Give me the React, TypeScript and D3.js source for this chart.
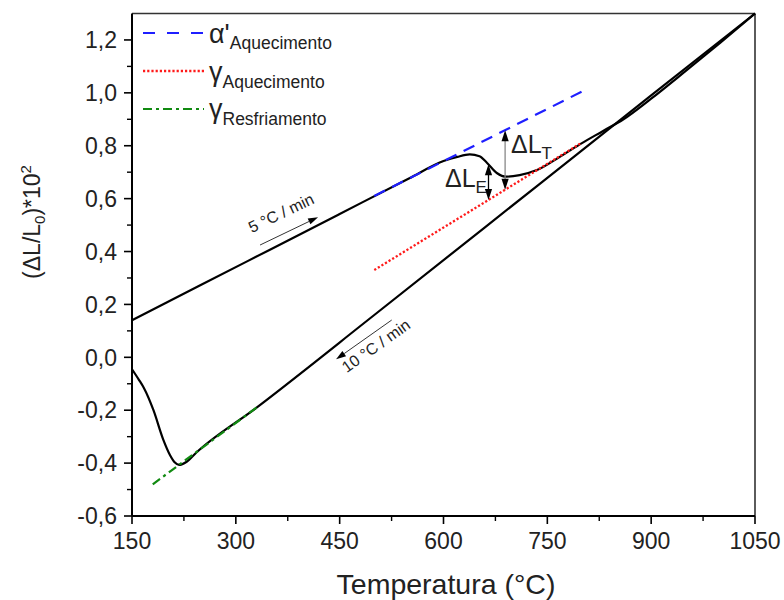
import React from "react";
import * as d3 from "d3";

// Dilatometric curve: heating at 5 °C/min, cooling at 10 °C/min
const heatT = [150, 250, 350, 450, 550, 600, 620, 638, 652, 663, 677, 691, 710, 735, 768, 800, 830, 860, 900, 950, 1000, 1050];
const heatV = [0.14, 0.274, 0.408, 0.542, 0.676, 0.742, 0.758, 0.767, 0.76, 0.735, 0.697, 0.683, 0.689, 0.708, 0.758, 0.81, 0.855, 0.9, 0.978, 1.083, 1.19, 1.3];

const coolT = [150, 160, 167, 181, 195, 205, 212, 218, 229, 243, 330, 500, 740, 900, 1050];
const coolV = [-0.045, -0.085, -0.115, -0.2, -0.31, -0.37, -0.398, -0.407, -0.395, -0.36, -0.19, 0.16, 0.658, 0.99, 1.3];

// Linear fits of the individual phases
const alphaHeatT = [500, 800];
const alphaHeatV = [0.61, 1.005];
const gammaHeatT = [500, 800];
const gammaHeatV = [0.33, 0.812];
const gammaCoolT = [180, 330];
const gammaCoolV = [-0.48, -0.19];

// Axis ticks
const xTicks = [150, 300, 450, 600, 750, 900, 1050];
const xMinor = [225, 375, 525, 675, 825, 975];
const yTicks = [-0.6, -0.4, -0.2, 0.0, 0.2, 0.4, 0.6, 0.8, 1.0, 1.2];
const yMinor = [-0.5, -0.3, -0.1, 0.1, 0.3, 0.5, 0.7, 0.9, 1.1];

// Temperatures where the ΔL arrows are drawn
const dLT_T = 689;
const dLE_T = 665;

const W = 784;
const H = 600;
const M = { left: 132, right: 29, top: 13.5, bottom: 84 };
const FONT = "'Liberation Sans', Arial, sans-serif";

const zip = (t: number[], v: number[]) => t.map((d, i) => [d, v[i]] as [number, number]);
const interp = (t: number[], v: number[]) => d3.scaleLinear().domain(t).range(v);

export default function App() {
  const x = d3.scaleLinear().domain([150, 1050]).range([M.left, W - M.right]);
  const y = d3.scaleLinear().domain([-0.6, 1.3]).range([H - M.bottom, M.top]);

  const curve = d3
    .line<[number, number]>()
    .x((d) => x(d[0]))
    .y((d) => y(d[1]))
    .curve(d3.curveMonotoneX);
  const straight = d3
    .line<[number, number]>()
    .x((d) => x(d[0]))
    .y((d) => y(d[1]));

  const fmt = (v: number) => d3.format(".1f")(v).replace(".", ",").replace("−", "-");

  const alphaAt = interp(alphaHeatT, alphaHeatV);
  const gammaAt = interp(gammaHeatT, gammaHeatV);
  const heatAt = interp(heatT, heatV);

  const x0 = M.left;
  const x1 = W - M.right;
  const y0 = H - M.bottom;
  const y1 = M.top;

  // vertical double-headed arrow between two values at temperature t
  const vArrow = (t: number, vTop: number, vBot: number, shaft: string, key: string) => {
    const px = x(t);
    const yt = y(vTop);
    const yb = y(vBot);
    const hl = 11;
    const hw = 3.6;
    return (
      <g key={key}>
        <line x1={px} x2={px} y1={yt + hl - 1} y2={yb - hl + 1} stroke={shaft} strokeWidth={1.3} />
        <path d={`M${px},${yt} L${px - hw},${yt + hl} L${px + hw},${yt + hl} Z`} fill="#000" />
        <path d={`M${px},${yb} L${px - hw},${yb - hl} L${px + hw},${yb - hl} Z`} fill="#000" />
      </g>
    );
  };

  // slanted arrow with a filled head at the end point
  const sArrow = (from: [number, number], to: [number, number], key: string) => {
    const ax = x(from[0]);
    const ay = y(from[1]);
    const bx = x(to[0]);
    const by = y(to[1]);
    const ang = Math.atan2(by - ay, bx - ax);
    const hl = 10;
    const hw = 3.2;
    const cx = bx - hl * Math.cos(ang);
    const cy = by - hl * Math.sin(ang);
    const nx = -Math.sin(ang) * hw;
    const ny = Math.cos(ang) * hw;
    return (
      <g key={key}>
        <line x1={ax} y1={ay} x2={cx} y2={cy} stroke="#333" strokeWidth={1} />
        <path d={`M${bx},${by} L${cx + nx},${cy + ny} L${cx - nx},${cy - ny} Z`} fill="#000" />
      </g>
    );
  };

  const rate5Angle = (Math.atan2(y(0.53) - y(0.4246), x(418.8) - x(335)) * 180) / Math.PI;
  const rate10Angle = (Math.atan2(y(0.141) - y(-0.0076), x(525.2) - x(444.8)) * 180) / Math.PI;

  return (
    <svg
      width={W}
      height={H}
      style={{ position: "absolute", left: 0, top: 0, background: "#fff" }}
      fontFamily={FONT}
    >
      <rect x={0} y={0} width={W} height={H} fill="#fff" />

      {/* frame */}
      <line x1={x0} x2={x1} y1={y1} y2={y1} stroke="#333" strokeWidth={1.6} />
      <line x1={x1} x2={x1} y1={y1} y2={y0} stroke="#333" strokeWidth={1.6} />

      {/* data curves */}
      <path d={curve(zip(coolT, coolV)) || ""} fill="none" stroke="#000" strokeWidth={2.2} />
      <path d={curve(zip(heatT, heatV)) || ""} fill="none" stroke="#000" strokeWidth={2.2} />

      {/* phase fits */}
      <path
        d={straight(zip(alphaHeatT, alphaHeatV)) || ""}
        fill="none"
        stroke="#1f1fff"
        strokeWidth={2.2}
        strokeDasharray="12,8"
      />
      <path
        d={straight(zip(gammaHeatT, gammaHeatV)) || ""}
        fill="none"
        stroke="#ff1a1a"
        strokeWidth={2.3}
        strokeDasharray="2.2,2"
      />
      <path
        d={straight(zip(gammaCoolT, gammaCoolV)) || ""}
        fill="none"
        stroke="#118a11"
        strokeWidth={2.2}
        strokeDasharray="9,4,3,4"
      />

      {/* ΔL arrows */}
      {vArrow(dLT_T, alphaAt(dLT_T), gammaAt(dLT_T), "#888", "dlt")}
      {vArrow(dLE_T, heatAt(dLE_T), gammaAt(dLE_T), "#000", "dle")}
      <text x={511} y={153} fontSize={25} fill="#222">
        ΔL
        <tspan fontSize={17} dy={6}>
          T
        </tspan>
      </text>
      <text x={445} y={187} fontSize={25} fill="#222">
        ΔL
        <tspan fontSize={17} dy={6}>
          E
        </tspan>
      </text>

      {/* heating / cooling rates */}
      {sArrow([335, 0.4246], [418.8, 0.53], "a5")}
      <text
        transform={`translate(${x(323)},${y(0.469)}) rotate(${rate5Angle})`}
        fontSize={16}
        fill="#222"
      >
        5 °C / min
      </text>
      {sArrow([525.2, 0.141], [444.8, -0.0076], "a10")}
      <text
        transform={`translate(${x(460.3)},${y(-0.06)}) rotate(${rate10Angle})`}
        fontSize={16}
        fill="#222"
      >
        10 °C / min
      </text>

      {/* axes */}
      <line x1={x0} x2={x1} y1={y0} y2={y0} stroke="#000" strokeWidth={2} />
      <line x1={x0} x2={x0} y1={y1} y2={y0} stroke="#000" strokeWidth={2} />
      {xTicks.map((t) => (
        <g key={`xt${t}`}>
          <line x1={x(t)} x2={x(t)} y1={y0} y2={y0 + 8} stroke="#000" strokeWidth={1.6} />
          <text x={x(t)} y={y0 + 33} fontSize={23} textAnchor="middle" fill="#222">
            {t}
          </text>
        </g>
      ))}
      {xMinor.map((t) => (
        <line key={`xm${t}`} x1={x(t)} x2={x(t)} y1={y0} y2={y0 + 5} stroke="#000" strokeWidth={1.4} />
      ))}
      {yTicks.map((v) => (
        <g key={`yt${v}`}>
          <line x1={x0 - 8} x2={x0} y1={y(v)} y2={y(v)} stroke="#000" strokeWidth={1.6} />
          <text x={x0 - 15} y={y(v)} dy="0.36em" fontSize={23} textAnchor="end" fill="#222">
            {fmt(v)}
          </text>
        </g>
      ))}
      {yMinor.map((v) => (
        <line key={`ym${v}`} x1={x0 - 5} x2={x0} y1={y(v)} y2={y(v)} stroke="#000" strokeWidth={1.4} />
      ))}

      {/* axis titles */}
      <text x={446} y={594} fontSize={28.5} textAnchor="middle" fill="#222">
        Temperatura (°C)
      </text>
      <text transform="translate(40,222) rotate(-90)" fontSize={23} textAnchor="middle" fill="#222">
        (ΔL/L
        <tspan fontSize={15} dy={5}>
          0
        </tspan>
        <tspan dy={-5}>)*10</tspan>
        <tspan fontSize={15} dy={-9}>
          2
        </tspan>
      </text>

      {/* legend */}
      <g>
        <line x1={143} x2={204} y1={33} y2={33} stroke="#1f1fff" strokeWidth={2.2} strokeDasharray="12,12" />
        <text x={209} y={43} fontSize={27} fill="#222">
          α'
          <tspan fontSize={17.5} dy={6}>
            Aquecimento
          </tspan>
        </text>
        <line x1={143} x2={204} y1={71} y2={71} stroke="#ff1a1a" strokeWidth={2.3} strokeDasharray="2.2,2" />
        <text x={209} y={81} fontSize={27} fill="#222">
          γ
          <tspan fontSize={17.5} dy={7}>
            Aquecimento
          </tspan>
        </text>
        <line x1={143} x2={204} y1={109} y2={109} stroke="#118a11" strokeWidth={2.2} strokeDasharray="9,4,3,4" />
        <text x={209} y={118} fontSize={27} fill="#222">
          γ
          <tspan fontSize={17.5} dy={7}>
            Resfriamento
          </tspan>
        </text>
      </g>
    </svg>
  );
}
